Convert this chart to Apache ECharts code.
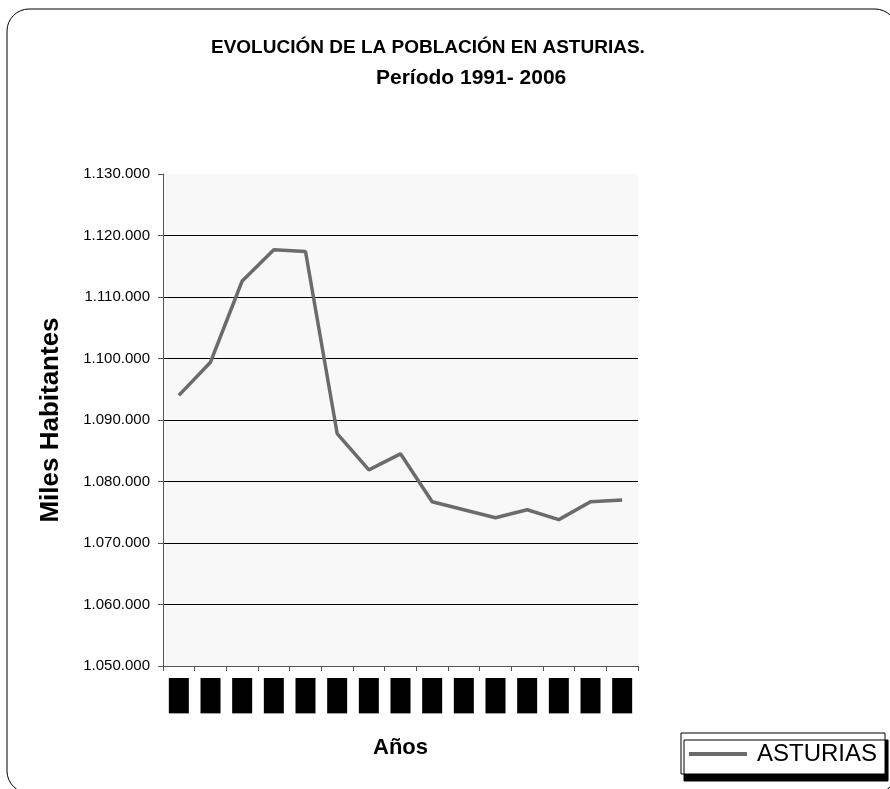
<!DOCTYPE html>
<html>
<head>
<meta charset="utf-8">
<script src="https://cdn.jsdelivr.net/npm/echarts@6/dist/echarts.min.js"></script>
<style>
    html, body { margin: 0; padding: 0; background: #ffffff; }
    #chart { width: 890px; height: 789px; }
</style>
</head>
<body>
<div id="chart"></div>
<script>
// datos
const years = ['1991', '1992', '1993', '1994', '1995', '1996', '1998', '1999',
    '2000', '2001', '2002', '2003', '2004', '2005', '2006']
const asturias = [1094000, 1099400, 1112600, 1117700, 1117400, 1087800, 1081900, 1084500,
    1076700, 1075400, 1074100, 1075400, 1073800, 1076700, 1077000]
const yTicks = [1050000, 1130000, 10000]   // min, max, paso

const chart = echarts.init(document.getElementById('chart'))

function formatMiles(v) {
    return String(v).replace(/\B(?=(\d{3})+(?!\d))/g, '.')
}

chart.setOption({
    animation: false,
    textStyle: { fontFamily: 'Liberation Sans' },
    title: [
        {
            text: 'EVOLUCIÓN DE LA POBLACIÓN EN ASTURIAS.',
            left: 206,
            top: 33,
            textStyle: { color: '#000000', fontSize: 19, fontWeight: 'bold' }
        },
        {
            text: 'Período 1991- 2006',
            left: 371,
            top: 63,
            textStyle: { color: '#000000', fontSize: 21, fontWeight: 'bold' }
        }
    ],
    graphic: [
        {
            type: 'rect',
            shape: { x: 7, y: 9, width: 890, height: 784, r: 22 },
            style: { fill: 'none', stroke: '#000000', lineWidth: 1 },
            z: -1
        }
    ],
    legend: {
        left: 681,
        top: 733,
        data: [{ name: 'ASTURIAS', icon: 'rect' }],
        itemWidth: 58,
        itemHeight: 4,
        itemGap: 0,
        padding: [9, 8, 8, 8],
        backgroundColor: '#ffffff',
        borderColor: '#000000',
        borderWidth: 1,
        shadowColor: '#000000',
        shadowOffsetX: 3,
        shadowOffsetY: 7,
        shadowBlur: 0,
        textStyle: { fontSize: 24, color: '#000000', padding: [0, 0, 0, 5] }
    },
    grid: {
        left: 163,
        right: 252,
        top: 174,
        bottom: 123,
        show: true,
        backgroundColor: '#f8f8f8',
        borderWidth: 0
    },
    xAxis: {
        type: 'category',
        data: years,
        name: 'Años',
        nameLocation: 'middle',
        nameGap: 71,
        nameTextStyle: { fontSize: 22, fontWeight: 'bold', color: '#000000' },
        axisLine: { lineStyle: { color: '#555555', width: 1 } },
        axisTick: { show: true, interval: 0, length: 5, lineStyle: { color: '#555555' } },
        axisLabel: {
            interval: 0,
            rotate: 90,
            margin: 12,
            fontSize: 15,
            lineHeight: 20,
            color: '#000000',
            backgroundColor: '#000000',
            padding: [0, 1, 0, 1]
        }
    },
    yAxis: {
        type: 'value',
        min: yTicks[0],
        max: yTicks[1],
        interval: yTicks[2],
        name: 'Miles Habitantes',
        nameLocation: 'middle',
        nameGap: 99,
        nameRotate: 90,
        nameTextStyle: { fontSize: 26, fontWeight: 'bold', color: '#000000' },
        axisLine: { show: true, lineStyle: { color: '#555555', width: 1 } },
        axisTick: { show: true, length: 5, lineStyle: { color: '#555555' } },
        axisLabel: {
            formatter: formatMiles,
            fontSize: 15,
            color: '#000000',
            margin: 13
        },
        splitLine: {
            show: true,
            showMaxLine: false,
            lineStyle: { color: '#000000', width: 1 }
        }
    },
    series: [
        {
            name: 'ASTURIAS',
            type: 'line',
            data: asturias,
            symbol: 'none',
            showSymbol: false,
            lineStyle: { color: '#6b6b6b', width: 3.5 },
            itemStyle: { color: '#6b6b6b' }
        }
    ]
})
</script>
</body>
</html>
